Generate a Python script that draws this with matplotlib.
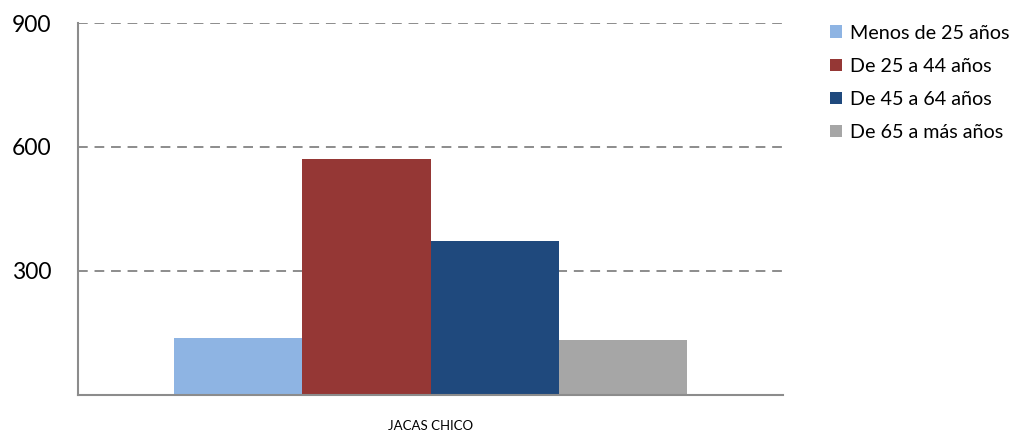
import numpy as np
import matplotlib
matplotlib.use("Agg")
import matplotlib.pyplot as plt

# data
category = "JACAS CHICO"
groups = ["Menos de 25 años", "De 25 a 44 años", "De 45 a 64 años", "De 65 a más años"]
values = [139, 571, 373, 133]
colors = ["#8eb4e3", "#953735", "#1f497d", "#a6a6a6"]
yticks = [300, 600, 900]

plt.rcParams['font.family'] = ['Lato', 'DejaVu Sans']

fig = plt.figure(figsize=(10.16, 4.34), dpi=100)
ax = fig.add_axes([0.0768, 0.0899, 0.6939, 0.8571])

width = 0.182
offsets = (np.arange(len(groups)) - (len(groups) - 1) / 2) * width
for off, val, col, lab in zip(offsets, values, colors, groups):
    ax.bar(off, val, width=width, color=col, label=lab, zorder=2)

ax.set_xlim(-0.5, 0.5)
ax.set_ylim(0, 900)
ax.set_yticks(yticks)
ax.set_yticklabels([str(t) for t in yticks], fontsize=16.5, color='black')
ax.set_xticks([0])
ax.set_xticklabels([category], fontsize=9.5)
ax.tick_params(axis='y', length=0, pad=19)
ax.tick_params(axis='x', length=0, pad=18)

ax.yaxis.grid(True, color='#8c8c8c', linestyle=(0, (5, 3.5)), linewidth=1.4, zorder=1)
ax.set_axisbelow(True)

for s in ['top', 'right']:
    ax.spines[s].set_visible(False)
for s in ['left', 'bottom']:
    ax.spines[s].set_color('#8c8c8c')
    ax.spines[s].set_linewidth(1.5)
    ax.spines[s].set_zorder(3)

ax.legend(loc='upper left', bbox_to_anchor=(1.056, 1.017), frameon=False,
          fontsize=14.2, handlelength=0.6, handleheight=0.6,
          handletextpad=0.4, labelspacing=0.82, borderaxespad=0)

fig.savefig("out.png", dpi=100)
